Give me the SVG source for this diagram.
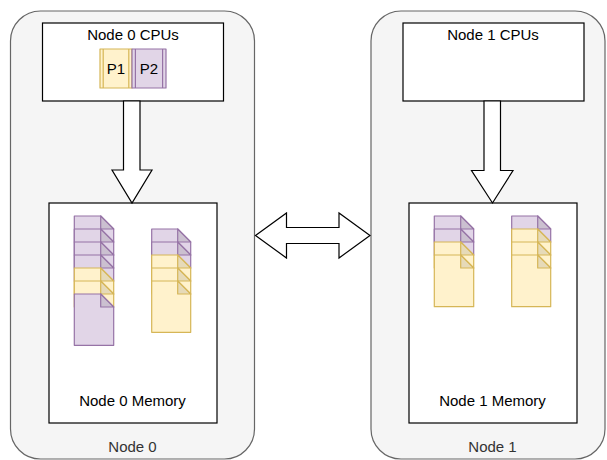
<svg xmlns="http://www.w3.org/2000/svg" width="607" height="460" viewBox="0 0 607 460">
<style>
.outer{fill:#f5f5f5;stroke:#666666;stroke-width:1.2}
.box{fill:#ffffff;stroke:#000000;stroke-width:1.2}
.t{font-family:"Liberation Sans",Arial,sans-serif;font-size:15px;fill:#000000;text-anchor:middle}
.tg{font-family:"Liberation Sans",Arial,sans-serif;font-size:15px;fill:#333333;text-anchor:middle}
.pb{fill:#e1d5e7;stroke:#9673a6;stroke-width:1.2;stroke-linejoin:round}
.pf{fill:#cbc0d0;stroke:#9673a6;stroke-width:1.2;stroke-linejoin:round}
.yb{fill:#fff2cc;stroke:#d6b656;stroke-width:1.2;stroke-linejoin:round}
.yf{fill:#e6dab8;stroke:#d6b656;stroke-width:1.2;stroke-linejoin:round}
.pl{fill:none;stroke:#9673a6;stroke-width:1.2}
.yl{fill:none;stroke:#d6b656;stroke-width:1.2}
.arrow{fill:#ffffff;stroke:#000000;stroke-width:1.2;stroke-linejoin:miter}
</style>
<g id="node0">
<rect class="outer" x="10.5" y="11" width="244" height="448" rx="30" ry="30"/>
<text class="tg" x="132.5" y="451.5">Node 0</text>
</g>
<g id="node1">
<rect class="outer" x="371" y="11" width="234" height="448" rx="30" ry="30"/>
<text class="tg" x="492.5" y="451.5">Node 1</text>
</g>
<g id="node0-cpus">
<rect class="box" x="42.5" y="23" width="181" height="78"/>
<text class="t" x="133" y="39.5">Node 0 CPUs</text>
</g>
<g id="p1">
<rect class="yb" x="100" y="49" width="32" height="39"/>
<path class="yl" d="M103.2,49V88M128.8,49V88"/>
<text class="t" x="116" y="73.5">P1</text>
</g>
<g id="p2">
<rect class="pb" x="132" y="49" width="34" height="39"/>
<path class="pl" d="M135.4,49V88M162.6,49V88"/>
<text class="t" x="149" y="73.5">P2</text>
</g>
<g id="node1-cpus">
<rect class="box" x="403" y="23" width="181" height="78"/>
<text class="t" x="493" y="39.5">Node 1 CPUs</text>
</g>
<g id="node0-memory">
<rect class="box" x="49" y="203" width="168" height="220"/>
<text class="t" x="132.5" y="406">Node 0 Memory</text>
<g id="mem0-stack1">
<path class="pb" d="M74.3,216H100.7L113.7,229V242H74.3Z"/><path class="pf" d="M100.7,216V229H113.7Z"/>
<path class="pb" d="M74.3,229H100.7L113.7,242V255H74.3Z"/><path class="pf" d="M100.7,229V242H113.7Z"/>
<path class="pb" d="M74.3,242H100.7L113.7,255V268H74.3Z"/><path class="pf" d="M100.7,242V255H113.7Z"/>
<path class="pb" d="M74.3,255H100.7L113.7,268V281H74.3Z"/><path class="pf" d="M100.7,255V268H113.7Z"/>
<path class="yb" d="M74.3,268H100.7L113.7,281V294H74.3Z"/><path class="yf" d="M100.7,268V281H113.7Z"/>
<path class="yb" d="M74.3,281H100.7L113.7,294V307H74.3Z"/><path class="yf" d="M100.7,281V294H113.7Z"/>
<path class="pb" d="M74.3,294H100.7L113.7,307V345.3H74.3Z"/><path class="pf" d="M100.7,294V307H113.7Z"/>
</g>
<g id="mem0-stack2">
<path class="pb" d="M151.7,229H177.7L190.7,242V255H151.7Z"/><path class="pf" d="M177.7,229V242H190.7Z"/>
<path class="pb" d="M151.7,242H177.7L190.7,255V268H151.7Z"/><path class="pf" d="M177.7,242V255H190.7Z"/>
<path class="yb" d="M151.7,255H177.7L190.7,268V281H151.7Z"/><path class="yf" d="M177.7,255V268H190.7Z"/>
<path class="yb" d="M151.7,268H177.7L190.7,281V294H151.7Z"/><path class="yf" d="M177.7,268V281H190.7Z"/>
<path class="yb" d="M151.7,281H177.7L190.7,294V332.3H151.7Z"/><path class="yf" d="M177.7,281V294H190.7Z"/>
</g>
</g>
<g id="node1-memory">
<rect class="box" x="409" y="203" width="168" height="220"/>
<text class="t" x="492.5" y="406">Node 1 Memory</text>
<g id="mem1-stack1">
<path class="pb" d="M434.3,216H460.7L473.7,229V242H434.3Z"/><path class="pf" d="M460.7,216V229H473.7Z"/>
<path class="pb" d="M434.3,229H460.7L473.7,242V255H434.3Z"/><path class="pf" d="M460.7,229V242H473.7Z"/>
<path class="yb" d="M434.3,242H460.7L473.7,255V268H434.3Z"/><path class="yf" d="M460.7,242V255H473.7Z"/>
<path class="yb" d="M434.3,255H460.7L473.7,268V306.7H434.3Z"/><path class="yf" d="M460.7,255V268H473.7Z"/>
</g>
<g id="mem1-stack2">
<path class="pb" d="M511.7,216H537.7L550.7,229V242H511.7Z"/><path class="pf" d="M537.7,216V229H550.7Z"/>
<path class="yb" d="M511.7,229H537.7L550.7,242V255H511.7Z"/><path class="yf" d="M537.7,229V242H550.7Z"/>
<path class="yb" d="M511.7,242H537.7L550.7,255V268H511.7Z"/><path class="yf" d="M537.7,242V255H550.7Z"/>
<path class="yb" d="M511.7,255H537.7L550.7,268V306.7H511.7Z"/><path class="yf" d="M537.7,255V268H550.7Z"/>
</g>
</g>
<g id="connectors">
<path class="arrow" d="M123.5,101V170H112L132,203L152,170H140V101Z"/>
<path class="arrow" d="M484,101V170.5H471.5L492.5,203L513,170.5H500.5V101Z"/>
<path class="arrow" d="M255.5,235.5L286.5,213V227.5H339V213L370,235.5L339,258V243.5H286.5V258Z"/>
</g>
</svg>
